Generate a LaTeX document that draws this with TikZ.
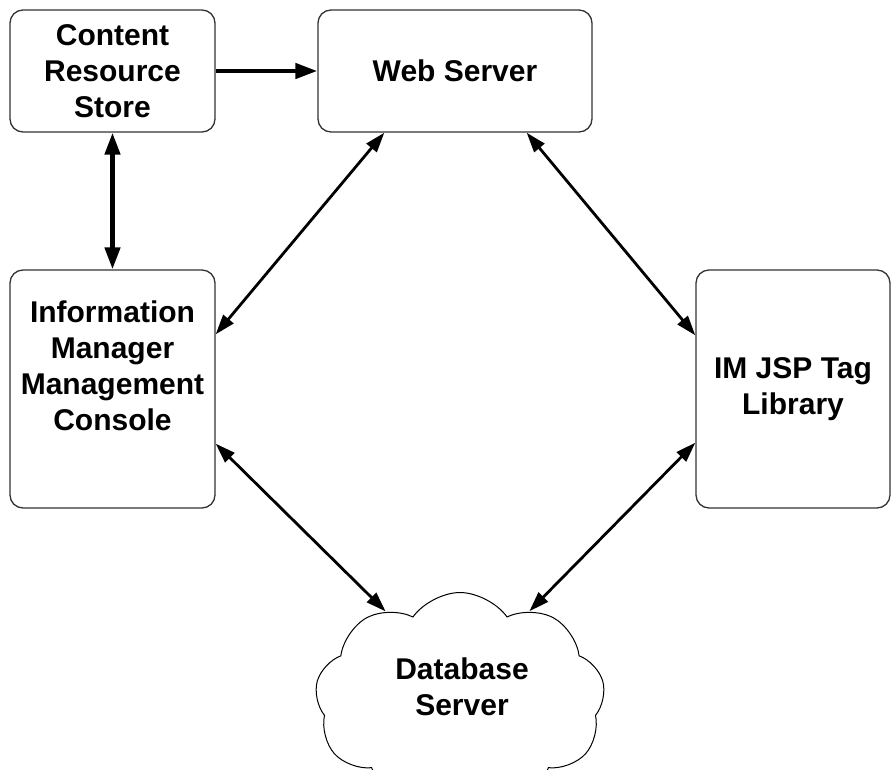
\documentclass[tikz,border=0pt]{standalone}
\usepackage{fontspec}
\setmainfont{Liberation Sans}
\usetikzlibrary{arrows.meta,shapes.symbols}

\tikzset{
    compbox/.style={draw=black!80, line width=1.3pt, rounded corners=13pt,
        align=center, font=\fontsize{30}{36}\selectfont\bfseries},
    boxtext/.style={align=center, font=\fontsize{30}{36}\selectfont\bfseries},
    heavylink/.style={line width=4.5pt, {Triangle[length=22pt,width=15pt]}-{Triangle[length=22pt,width=15pt]}},
    thinlink/.style={line width=2.8pt, {Triangle[length=20pt,width=13pt]}-{Triangle[length=20pt,width=13pt]}}
}

\begin{document}
\begin{tikzpicture}[x=1pt,y=-1pt]
    \useasboundingbox (0,0) rectangle (891,769);
    % the five components
    \node[compbox, minimum width=205pt, minimum height=122pt] (store) at (112.5,71) {Content\\Resource\\Store};
    \node[compbox, minimum width=274pt, minimum height=122pt] (web) at (455,71) {Web Server};
    \node[compbox, minimum width=205pt, minimum height=238pt] (console) at (112.5,389) {};
    \node[boxtext] (consoletext) at (112.5,366) {Information\\Manager\\Management\\Console};
    \node[compbox, minimum width=194pt, minimum height=238pt] (taglib) at (793,389) {IM JSP Tag\\Library};
    \node[draw=black, line width=1pt, cloud, cloud puffs=9, cloud puff arc=110, aspect=1.4,
        minimum width=290pt, minimum height=215pt, boxtext] (db) at (460,700) {};
    \node[boxtext] (dbtext) at (462,687) {Database\\Server};

    % connectors
    \draw[line width=4.5pt, -{Triangle[length=22pt,width=15pt]}] (store.east) -- (web.west);
    \draw[heavylink] (store.south) -- (console.north);
    \draw[thinlink] ([xshift=67pt]web.south west) -- ([yshift=-65pt]console.north east);
    \draw[thinlink] ([xshift=-66pt]web.south east) -- ([yshift=-66pt]taglib.north west);
    \draw[thinlink] ([yshift=65pt]console.south east) -- (db.130);
    \draw[thinlink] ([yshift=66pt]taglib.south west) -- (db.52);
\end{tikzpicture}
\end{document}
